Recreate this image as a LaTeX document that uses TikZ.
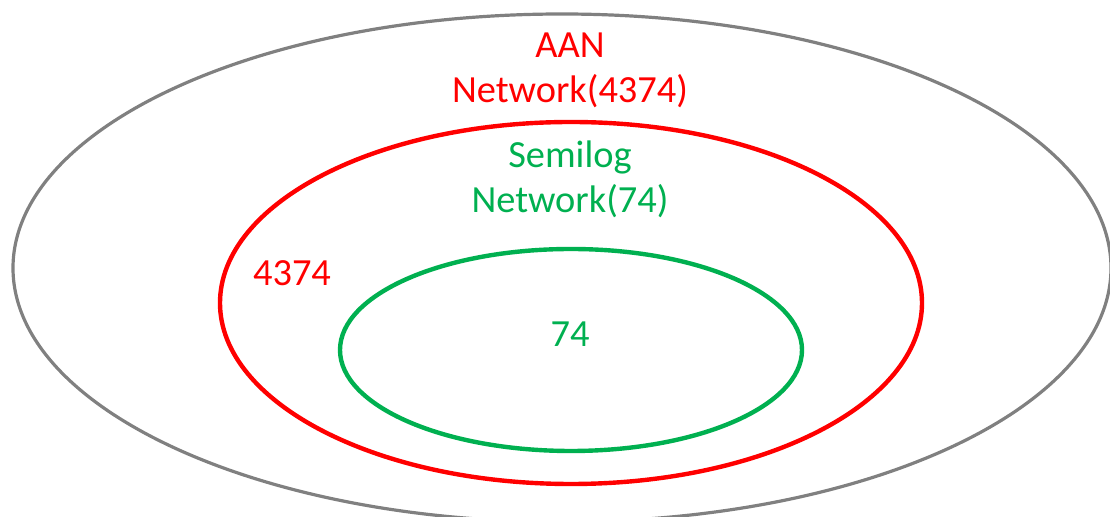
\documentclass[tikz,border=0pt]{standalone}
\usepackage{fontspec}
\setmainfont{Carlito}
\usetikzlibrary{positioning}

\definecolor{setgray}{RGB}{128,128,128}
\definecolor{setred}{RGB}{255,0,0}
\definecolor{setgreen}{RGB}{0,176,80}

\begin{document}
\begin{tikzpicture}[
  x=0.5pt, y=-0.5pt,
  font=\fontsize{19.2}{22.5}\selectfont,
  ring/.style={line width=2.2pt},
  lbl/.style={align=center, inner sep=0pt, anchor=base},
]
  \useasboundingbox (0,0) rectangle (1110,517);
  \clip (0,0) rectangle (1110,517);

  % nested sets, outermost first
  \draw[ring, setgray, line width=1.6pt] (562,268) ellipse [x radius=549, y radius=254];
  \draw[ring, setred]   (571,303) ellipse [x radius=351, y radius=181];
  \draw[ring, setgreen] (571,350) ellipse [x radius=231, y radius=101];

  % set names and counts (base = last line)
  \node[lbl, text=setred]   (aanname)  at (570,103) {AAN\\Network(4374)};
  \node[lbl, text=setgreen] (seminame) at (570,213) {Semilog\\Network(74)};
  \node[lbl, text=setred]   (aancount)  at (292,286) {4374};
  \node[lbl, text=setgreen] (semicount) at (570,347) {74};
\end{tikzpicture}
\end{document}
